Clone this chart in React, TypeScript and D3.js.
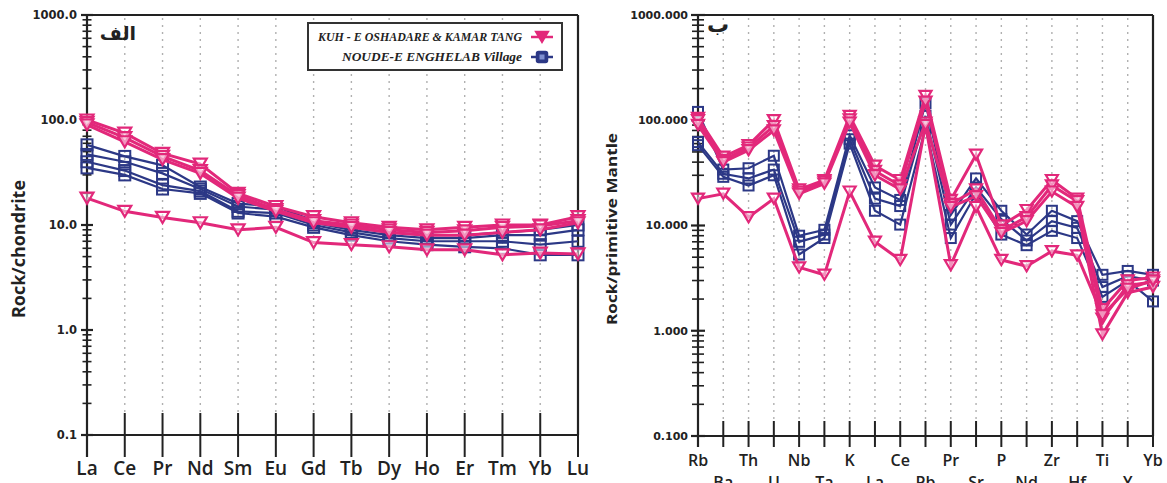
import React from "react";
import * as d3 from "d3";

// ---------- DATA ----------
const reeElements = ["La","Ce","Pr","Nd","Sm","Eu","Gd","Tb","Dy","Ho","Er","Tm","Yb","Lu"];
const reePink1 = [100, 75, 48, 38, 20, 15, 12, 10.5, 9.5, 9, 9.5, 10, 10, 12];
const reePink2 = [95, 68, 45, 33, 19, 14, 11, 10, 9, 8.5, 8.8, 9.5, 9.8, 11];
const reePink3 = [90, 62, 42, 31, 18, 13.5, 10.5, 9.5, 8.5, 8, 8, 8.5, 9, 10.5];
const reePink4 = [18, 13.5, 11.8, 10.5, 9, 9.5, 6.8, 6.5, 6.2, 5.8, 5.8, 5.2, 5.4, 5.3];
const reeBlue1 = [58, 45, 37, 23, 16, 15, 11, 9.5, 8.5, 8, 8, 8.5, 9, 10];
const reeBlue2 = [47, 40, 31, 22, 15, 14, 10.5, 9, 8, 7.5, 7.5, 8, 8, 9];
const reeBlue3 = [40, 33, 24, 21, 13.5, 13, 10, 8.5, 7.5, 7, 7, 7, 6.5, 7];
const reeBlue4 = [35, 30, 22, 20, 13, 12, 9.5, 8, 7, 6.5, 6.2, 6, 5.2, 5.2];

const spiderElements = ["Rb","Ba","Th","U","Nb","Ta","K","La","Ce","Pb","Pr","Sr","P","Nd","Zr","Hf","Ti","Y","Yb"];
const spPink1 = [105, 45, 58, 100, 22, 27, 110, 37, 27, 170, 17.5, 47, 10, 14, 27, 18, 1.6, 3.0, 3.2];
const spPink2 = [100, 42, 55, 88, 21, 26, 102, 33, 24, 150, 16, 22, 9, 12, 24, 17, 1.3, 2.7, 2.9];
const spPink3 = [90, 40, 52, 80, 20, 25, 95, 30, 22, 95, 15, 19, 8.5, 11, 21, 15, 0.92, 2.3, 2.6];
const spPink4 = [18, 20, 12, 18, 4, 3.4, 21, 7, 4.7, 90, 4.2, 15, 4.7, 4.1, 5.7, 5.2, 1.4, 2.5, 3.0];
const spBlue1 = [120, 34, 35, 46, 8, 9.1, 72, 23, 17.5, 145, 12.6, 28, 13.8, 8.2, 13.8, 11, 3.4, 3.7, 3.4];
const spBlue2 = [62, 31, 28, 34, 7, 8.2, 66, 18, 15.3, 110, 10.2, 23, 11.5, 7.2, 11, 9.5, 2.6, 3.3, 3.0];
const spBlue3 = [58, 29, 24, 30, 5.3, 7.6, 60, 13.8, 10.2, 85, 7.6, 20, 8.2, 6.5, 8.9, 7.6, 2.1, 3.0, 1.9];

const majorTicks = [0.1, 1, 10, 100, 1000];
const leftTickLabels = ["0.1", "1.0", "10.0", "100.0", "1000.0"];
const rightTickLabels = ["0.100", "1.000", "10.000", "100.000", "1000.000"];
const legendLabels = ["KUH - E OSHADARE & KAMAR TANG", "NOUDE-E ENGHELAB Village"];

const PINK = "#e2287a";
const BLUE = "#2c3886";

function minorTicks(): number[] {
  const out: number[] = [];
  [0.1, 1, 10, 100].forEach((d) => {
    for (let k = 2; k <= 9; k++) out.push(k * d);
  });
  return out;
}

function triPath(cx: number, cy: number, w: number) {
  const h = w * 0.85;
  return `M${cx - w / 2},${cy - h / 2}L${cx + w / 2},${cy - h / 2}L${cx},${cy + h / 2}Z`;
}

type PanelProps = {
  cats: string[];
  pink: number[][];
  blue: number[][];
  x0: number; x1: number; y0: number; y1: number;
  tickLabels: string[];
  labelFont: number;
  stagger: boolean;
  tickTop: number; tickBot: number;
  axisBottom: number;
  yTitle: string; yTitleX: number; yTitleY: number; yTitleLen: number; yTitleSize: number;
  yLabelX: number; yLabelSize: number;
  minorHalf: number; majorHalf: number;
  triW: number; sqW: number;
  labelY1: number; labelY2: number;
};

function Panel(p: PanelProps) {
  const x = d3.scalePoint<string>().domain(p.cats).range([p.x0, p.x1]);
  const y = d3.scaleLog().domain([0.1, 1000]).range([p.y1, p.y0]);
  const line = d3.line<number>().x((_, i) => x(p.cats[i]) as number).y((v) => y(v));
  const minors = minorTicks();
  return (
    <g>
      {p.cats.map((c, i) =>
        i === 0 || i === p.cats.length - 1 ? null : (
          <line key={"g" + c} x1={x(c)} x2={x(c)} y1={p.y0 + 3} y2={p.tickTop}
            stroke="#b0b0b0" strokeWidth={1.4} strokeDasharray="2,5" />
        )
      )}
      <line x1={p.x0} x2={p.x1} y1={p.y0} y2={p.y0} stroke="#222" strokeWidth={2.2} />
      <line x1={p.x1} x2={p.x1} y1={p.y0} y2={p.y1} stroke="#222" strokeWidth={2.2} />
      <line x1={p.x0} x2={p.x1} y1={p.y1} y2={p.y1} stroke="#222" strokeWidth={2.2} />
      <line x1={p.x0} x2={p.x0} y1={p.y0} y2={p.axisBottom} stroke="#222" strokeWidth={2.2} />
      {p.cats.map((c) => (
        <line key={"t" + c} x1={x(c)} x2={x(c)} y1={p.tickTop} y2={p.tickBot} stroke="#222" strokeWidth={2} />
      ))}
      {minors.map((v) => (
        <line key={"m" + v} x1={p.x0 - p.minorHalf} x2={p.x0 + p.minorHalf} y1={y(v)} y2={y(v)} stroke="#222" strokeWidth={1.6} />
      ))}
      {majorTicks.map((v, i) => (
        <g key={"M" + v}>
          <line x1={p.x0 - p.majorHalf} x2={p.x0 + p.majorHalf} y1={y(v)} y2={y(v)} stroke="#222" strokeWidth={2.2} />
          <text x={p.yLabelX} y={y(v)} dy="0.36em" textAnchor="end" fontFamily="DejaVu Sans" fontWeight="bold"
            fontSize={p.yLabelSize} fill="#222">{p.tickLabels[i]}</text>
        </g>
      ))}
      {p.cats.map((c, i) => (
        <text key={"l" + c} x={x(c)} y={p.stagger && i % 2 === 1 ? p.labelY2 : p.labelY1} textAnchor="middle"
          fontFamily="Open Sans" fontWeight={600} fontSize={p.labelFont} fill="#222">{c}</text>
      ))}
      <text transform={`translate(${p.yTitleX},${p.yTitleY}) rotate(-90)`} textAnchor="middle" dy="0.35em"
        fontFamily="Open Sans" fontWeight="bold" fontSize={p.yTitleSize} fill="#222"
        textLength={p.yTitleLen} lengthAdjust="spacingAndGlyphs">{p.yTitle}</text>
      {p.blue.map((s, si) => (
        <g key={"b" + si}>
          <path d={line(s) || ""} fill="none" stroke={BLUE} strokeWidth={2.2} />
          {s.map((v, i) => (
            <rect key={i} x={(x(p.cats[i]) as number) - p.sqW / 2} y={y(v) - p.sqW / 2} width={p.sqW} height={p.sqW}
              fill="none" stroke={BLUE} strokeWidth={2} />
          ))}
        </g>
      ))}
      {p.pink.map((s, si) => (
        <g key={"p" + si}>
          <path d={line(s) || ""} fill="none" stroke={PINK} strokeWidth={3} />
          {s.map((v, i) => (
            <path key={i} d={triPath(x(p.cats[i]) as number, y(v), p.triW)} fill="#fff" fillOpacity={0.5}
              stroke={PINK} strokeWidth={2.2} />
          ))}
        </g>
      ))}
    </g>
  );
}

export default function App() {
  return (
    <svg width={1167} height={483} style={{ position: "absolute", left: 0, top: 0, background: "#fff" }}>
      <rect width={1167} height={483} fill="#fff" />
      <Panel cats={reeElements} pink={[reePink1, reePink2, reePink3, reePink4]}
        blue={[reeBlue1, reeBlue2, reeBlue3, reeBlue4]}
        x0={87} x1={578} y0={15} y1={435} tickLabels={leftTickLabels} labelFont={19} stagger={false}
        tickTop={413} tickBot={457} axisBottom={457}
        yTitle="Rock/chondrite" yTitleX={19} yTitleY={249} yTitleLen={138} yTitleSize={18}
        yLabelX={77} yLabelSize={11.5} minorHalf={4.5} majorHalf={6} triW={13} sqW={11}
        labelY1={475} labelY2={475} />
      <Panel cats={spiderElements} pink={[spPink1, spPink2, spPink3, spPink4]}
        blue={[spBlue1, spBlue2, spBlue3]}
        x0={698} x1={1153} y0={15} y1={436} tickLabels={rightTickLabels} labelFont={16} stagger={true}
        tickTop={421} tickBot={447} axisBottom={447}
        yTitle="Rock/primitive Mantle" yTitleX={612} yTitleY={229} yTitleLen={192} yTitleSize={15}
        yLabelX={688} yLabelSize={11} minorHalf={6} majorHalf={7} triW={12} sqW={10}
        labelY1={466} labelY2={488} />
      <text x={118} y={40} textAnchor="middle" fontFamily="DejaVu Sans" fontWeight="bold" fontSize={19} fill="#222">الف</text>
      <text x={718} y={32} textAnchor="middle" fontFamily="DejaVu Sans" fontWeight="bold" fontSize={22} fill="#222">ب</text>
      <rect x={308} y={23} width={254} height={47} fill="#fff" stroke="#333" strokeWidth={2} />
      <text x={522} y={41} textAnchor="end" fontFamily="Liberation Serif" fontStyle="italic" fontWeight="bold"
        fontSize={11.5} fill="#222" textLength={204} lengthAdjust="spacingAndGlyphs">{legendLabels[0]}</text>
      <text x={522} y={61} textAnchor="end" fontFamily="Liberation Serif" fontStyle="italic" fontWeight="bold"
        fontSize={11.5} fill="#222" textLength={180} lengthAdjust="spacingAndGlyphs">{legendLabels[1]}</text>
      <line x1={531} x2={553} y1={37} y2={37} stroke={PINK} strokeWidth={2.5} />
      <path d={triPath(542, 37, 13)} fill={PINK} stroke={PINK} strokeWidth={1.5} />
      <line x1={531} x2={553} y1={57} y2={57} stroke={BLUE} strokeWidth={2.5} />
      <rect x={536.5} y={51.5} width={11} height={11} rx={2} fill={BLUE} stroke={BLUE} strokeWidth={1.5} />
      <rect x={539.5} y={54.5} width={5} height={5} fill="#7f8fd0" />
    </svg>
  );
}
